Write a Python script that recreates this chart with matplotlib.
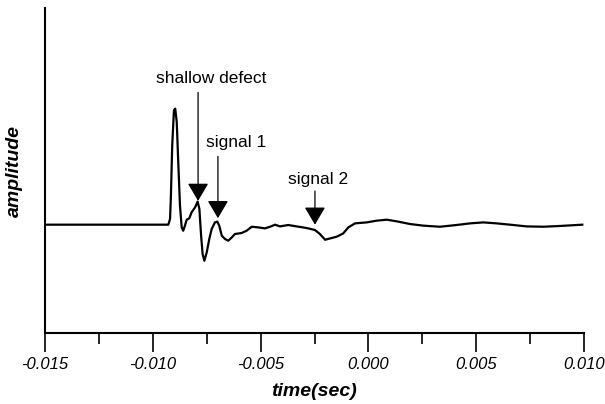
import matplotlib.pyplot as plt
from matplotlib.ticker import MultipleLocator

# waveform (time in sec, amplitude arbitrary)
time = [-0.01500, -0.00928, -0.00920, -0.00916, -0.00910, -0.00902, -0.00896,
        -0.00889, -0.00882, -0.00874, -0.00866, -0.00859, -0.00851, -0.00843,
        -0.00831, -0.00820, -0.00804, -0.00792, -0.00784, -0.00776, -0.00769,
        -0.00761, -0.00750, -0.00738, -0.00727, -0.00712, -0.00701, -0.00692,
        -0.00680, -0.00665, -0.00650, -0.00634, -0.00619, -0.00588, -0.00565,
        -0.00541, -0.00511, -0.00480, -0.00456, -0.00433, -0.00410, -0.00372,
        -0.00333, -0.00286, -0.00248, -0.00225, -0.00201, -0.00178, -0.00147,
        -0.00117, -0.00093, -0.00062, -0.00039, -0.00008, 0.00038, 0.00085,
        0.00131, 0.00193, 0.00255, 0.00332, 0.00409, 0.00471, 0.00533,
        0.00595, 0.00657, 0.00734, 0.00811, 0.00889, 0.00966, 0.00992]
amplitude = [0.0, 0.0, 0.053, 0.269, 0.731, 1.056, 1.071,
             0.947, 0.577, 0.176, -0.025, -0.056, -0.009, 0.046,
             0.058, 0.114, 0.160, 0.213, 0.145, -0.102, -0.271,
             -0.333, -0.256, -0.132, -0.040, 0.021, 0.028, -0.009,
             -0.102, -0.132, -0.148, -0.118, -0.086, -0.077, -0.056,
             -0.019, -0.025, -0.034, -0.019, 0.0, -0.016, -0.003,
             -0.016, -0.031, -0.049, -0.086, -0.139, -0.127, -0.111,
             -0.081, -0.025, 0.012, 0.016, 0.021, 0.037, 0.046,
             0.031, 0.006, -0.009, -0.019, -0.003, 0.012, 0.021,
             0.012, 0.0, -0.016, -0.019, -0.012, -0.003, 0.0]

# annotations: label, arrow x, arrow tip y, arrow top y, text x, text y
labels = ["shallow defect", "signal 1", "signal 2"]
arrow_x = [-0.00790, -0.00698, -0.00248]
arrow_tip = [0.22, 0.06, 0.0]
arrow_top = [1.22, 0.63, 0.31]
text_x = [-0.00730, -0.00614, -0.00234]
text_y = [1.35, 0.76, 0.42]

plt.rcParams["font.family"] = ["Liberation Sans", "DejaVu Sans"]

fig = plt.figure(figsize=(6.05, 4.04), dpi=100)
ax = fig.add_axes([0.0744, 0.1757, 0.8909, 0.8045])

ax.plot(time, amplitude, color="black", lw=1.6, solid_joinstyle="round")

for lab, ax_x, tip, top, tx, ty in zip(labels, arrow_x, arrow_tip, arrow_top, text_x, text_y):
    ax.annotate("", xy=(ax_x, tip), xytext=(ax_x, top),
                arrowprops=dict(arrowstyle="-|>,head_length=1.1,head_width=0.65",
                                color="black", lw=0.9, shrinkA=0, shrinkB=0))
    ax.text(tx, ty, lab, ha="center", va="center", fontsize=12.5)

ax.set_xlim(-0.015, 0.010)
ax.set_ylim(-1.0, 2.0)
ax.xaxis.set_minor_locator(MultipleLocator(0.0025))
ax.set_xticks([-0.015, -0.010, -0.005, 0.0, 0.005, 0.010])
ax.set_xticklabels(["-0.015", "-0.010", "-0.005", "0.000", "0.005", "0.010"],
                   fontstyle="italic", fontsize=12)
ax.tick_params(axis="x", which="major", direction="out", length=14, width=1.2, pad=3)
ax.tick_params(axis="x", which="minor", direction="out", length=8, width=1.2)
ax.set_yticks([])

for side in ["top", "right"]:
    ax.spines[side].set_visible(False)
for side in ["left", "bottom"]:
    ax.spines[side].set_linewidth(1.5)

ax.set_xlabel("time(sec)", fontsize=14, fontweight="bold", fontstyle="italic", labelpad=8)
ax.set_ylabel("amplitude", fontsize=14, fontweight="bold", fontstyle="italic", labelpad=16)

fig.savefig("out.png", dpi=100)
